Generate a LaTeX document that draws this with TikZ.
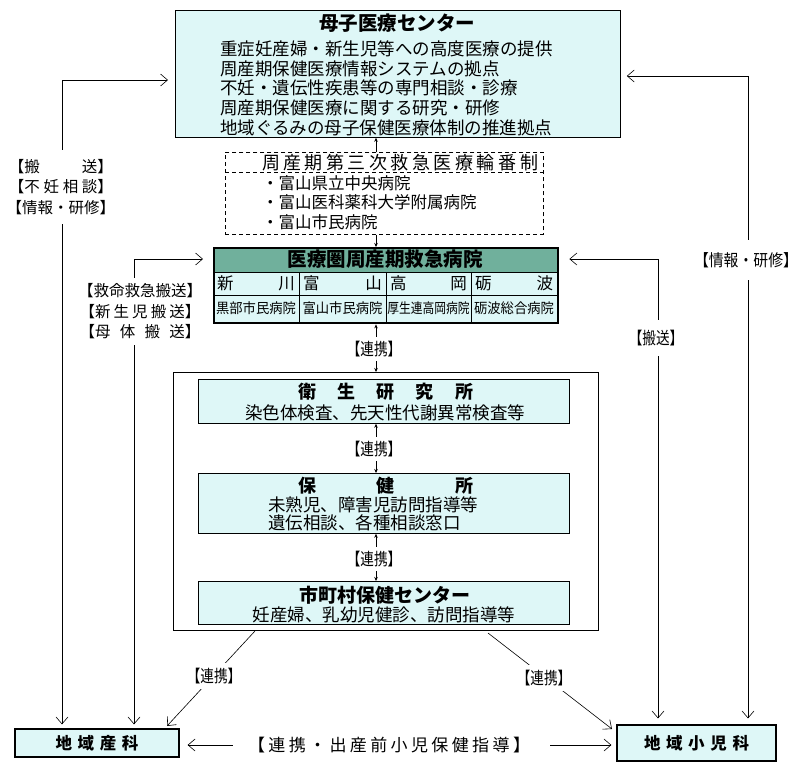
\documentclass[tikz,border=0pt]{standalone}
\usepackage{fontspec}
\setmainfont{Noto Sans CJK JP}
\usepackage{graphicx}
\usetikzlibrary{arrows.meta}
\definecolor{boxcyan}{RGB}{222,247,247}
\definecolor{headteal}{RGB}{112,176,156}
\newcommand{\fs}[1]{\fontsize{#1}{#1}\selectfont}
\newcommand{\narrow}[1]{\scalebox{0.8}[1]{#1}}
\begin{document}
\begin{tikzpicture}[x=1pt,y=-1pt,
    every node/.style={inner sep=0pt},
    cbox/.style={draw, line width=0.8pt, fill=boxcyan, anchor=north west},
    tag/.style={fill=white, inner xsep=2pt, inner ysep=7pt, font=\fs{15.5}},
    linktag/.style={fill=white, inner ysep=4pt, font=\fs{17}},
    link/.style={line width=0.6pt, -{Straight Barb[length=7pt,width=12pt]}},
    duplex/.style={line width=0.6pt, {Stealth[length=4pt,width=3.5pt]}-{Stealth[length=4pt,width=3.5pt]}},
    single/.style={line width=0.6pt, -{Stealth[length=4pt,width=3.5pt]}}
  ]
  \useasboundingbox (0,0) rectangle (805,769);
  \coordinate (spine) at (376,0);

  % top centre
  \node[cbox, minimum width=445pt, minimum height=127pt] (center) at (175,10) {};
  \node[font=\bfseries\fs{19.5}] (centertitle) at (397,23) {母子医療センター};
  \node[anchor=west, font=\fs{17.5}] (c1) at (220,49) {重症妊産婦・新生児等への高度医療の提供};
  \node[anchor=west, font=\fs{17.5}] (c2) at (220,68.5) {周産期保健医療情報システムの拠点};
  \node[anchor=west, font=\fs{17.5}] (c3) at (220,88) {不妊・遺伝性疾患等の専門相談・診療};
  \node[anchor=west, font=\fs{17.5}] (c4) at (220,108) {周産期保健医療に関する研究・研修};
  \node[anchor=west, font=\fs{17.5}] (c5) at (220,127.5) {地域ぐるみの母子保健医療体制の推進拠点};

  % rota of the third level
  \node[draw, dash pattern=on 4pt off 3pt, line width=0.7pt, anchor=north west,
        minimum width=318pt, minimum height=82pt] (rinban) at (225,152) {};
  \draw[dash pattern=on 4pt off 3pt, line width=0.7pt] (225,172) -- (543,172);
  \node[font=\fs{18}] (rinbantitle) at (400,162.5) {\makebox[276pt]{周\hfill 産\hfill 期\hfill 第\hfill 三\hfill 次\hfill 救\hfill 急\hfill 医\hfill 療\hfill 輪\hfill 番\hfill 制}};
  \node[anchor=west, font=\fs{16.5}] (r1) at (262,183) {・富山県立中央病院};
  \node[anchor=west, font=\fs{16.5}] (r2) at (262,202.5) {・富山医科薬科大学附属病院};
  \node[anchor=west, font=\fs{16.5}] (r3) at (262,222) {・富山市民病院};

  % regional hospitals
  \fill[boxcyan] (213,247) rectangle (557,322);
  \fill[headteal] (213,247) rectangle (557,272);
  \draw[line width=0.8pt] (213,272) -- (557,272) (213,295) -- (557,295);
  \foreach \x in {299,386,471}
    \draw[line width=0.8pt] (\x,272) -- (\x,322);
  \node[draw, line width=2.4pt, anchor=north west, minimum width=344pt, minimum height=75pt] (hosp) at (213,247) {};
  \node[font=\bfseries\fs{19.5}] (hosptitle) at (385,259.5) {医療圏周産期救急病院};
  \foreach \cx/\w/\lft/\rgt [count=\i] in {256/78/新/川, 342.5/79/富/山, 428.5/77/高/岡, 514/78/砺/波}
    \node[font=\fs{16.5}] (area\i) at (\cx,283.5) {\makebox[\w pt]{\lft\hfill\rgt}};
  \foreach \cx/\sx/\hname [count=\i] in {256/0.95/黒部市民病院, 342.5/0.95/富山市民病院, 428.5/0.84/厚生連高岡病院, 514/0.95/砺波総合病院}
    \node[font=\fs{14}] (hname\i) at (\cx,308.5) {\scalebox{\sx}[1]{\hname}};

  % local services
  \node[draw, line width=1pt, anchor=north west, minimum width=425pt, minimum height=258pt] (big) at (173,372) {};
  \node[cbox, minimum width=371pt, minimum height=44pt] (eisei) at (198,379) {};
  \node[font=\bfseries\fs{18}] (eiseititle) at (385.5,392) {\makebox[175pt]{衛\hfill 生\hfill 研\hfill 究\hfill 所}};
  \node[font=\fs{17.5}] (eiseitext) at (385,413) {染色体検査、先天性代謝異常検査等};
  \node[cbox, minimum width=371pt, minimum height=60pt] (hoken) at (198,473) {};
  \node[font=\bfseries\fs{18}] (hokentitle) at (385.5,486) {\makebox[175pt]{保\hfill 健\hfill 所}};
  \node[anchor=west, font=\fs{17.5}] (hoken1) at (268,505) {未熟児、障害児訪問指導等};
  \node[anchor=west, font=\fs{17.5}] (hoken2) at (268,523) {遺伝相談、各種相談窓口};
  \node[cbox, minimum width=371pt, minimum height=43pt] (town) at (198,581) {};
  \node[font=\bfseries\fs{19}] (towntitle) at (385,595) {市町村保健センター};
  \node[font=\fs{17.5}] (towntext) at (384,615) {妊産婦、乳幼児健診、訪問指導等};

  % local doctors
  \node[draw, line width=1.2pt, fill=boxcyan, minimum width=164pt, minimum height=28pt, font=\bfseries\fs{16.5}] (sanka) at (97,743) {\makebox[83pt]{地\hfill 域\hfill 産\hfill 科}};
  \node[draw, line width=1.2pt, fill=boxcyan, minimum width=159pt, minimum height=36pt, font=\bfseries\fs{16.5}] (shoni) at (696.5,743) {\makebox[105pt]{地\hfill 域\hfill 小\hfill 児\hfill 科}};

  % spine
  \draw[single] (rinban.north -| spine) -- (center.south -| spine);
  \draw[single] (rinban.south -| spine) -- (hosp.north -| spine);
  \draw[duplex] (hosp.south -| spine) -- (big.north -| spine);
  \draw[duplex] (eisei.south -| spine) -- (hoken.north -| spine);
  \draw[duplex] (hoken.south -| spine) -- (town.north -| spine);
  \node[linktag] (link1) at (374,349) {\narrow{【連携】}};
  \node[linktag] (link2) at (374,449) {\narrow{【連携】}};
  \node[linktag] (link3) at (374,559) {\narrow{【連携】}};

  % outer routes
  \coordinate (l1) at (62,80);
  \coordinate (l2) at (134,259);
  \coordinate (r1) at (658,259);
  \coordinate (r2) at (748,76);
  \draw[link, shorten >=7pt] (l1) -- (center.west |- l1);
  \draw[link, shorten >=4pt] (l1) -- (sanka.north -| l1);
  \draw[link, shorten >=10pt] (l2) -- (hosp.west |- l2);
  \draw[link, shorten >=4pt] (l2) -- (sanka.north -| l2);
  \draw[link, shorten >=10pt] (r1) -- (hosp.east |- r1);
  \draw[link, shorten >=6pt] (r1) -- (shoni.north -| r1);
  \draw[link, shorten >=6pt] (r2) -- (center.east |- r2);
  \draw[link, shorten >=6pt] (r2) -- (shoni.north -| r2);
  \node[tag, align=center, inner ysep=9pt] (lefttags) at (61,187)
    {\makebox[104pt]{【搬\hfill 送】}\\[5pt]\makebox[104pt]{【不\hfill 妊\hfill 相\hfill 談】}\\[5pt]\makebox[104pt]{【情報・研修】}};
  \node[tag, align=center, inner ysep=6pt] (carrytags) at (140,311.5)
    {\makebox[121pt]{【救命救急搬送】}\\[5pt]\makebox[121pt]{【新\hfill 生\hfill 児\hfill 搬\hfill 送】}\\[5pt]\makebox[121pt]{【母\hfill 体\hfill 搬\hfill 送】}};
  \node[tag, inner ysep=10pt, font=\fs{17}] (carryright) at (656,338) {\narrow{【搬送】}};
  \node[tag, inner ysep=12pt, font=\fs{16.5}] (inforight) at (746,260) {\scalebox{0.9}[1]{【情報・研修】}};

  % diagonal links
  \coordinate (dl) at (255,631);
  \coordinate (dlend) at (167,726);
  \coordinate (dr) at (488,633);
  \coordinate (drend) at (612,729);
  \draw[link] (dl) -- (dlend);
  \draw[link] (dr) -- (drend);
  \node[linktag, inner ysep=5pt] (linkl) at (214,676) {\narrow{【連携】}};
  \node[linktag, inner ysep=5pt] (linkr) at (544,678) {\narrow{【連携】}};

  % bottom
  \node[font=\fs{17}] (prenatal) at (389,745) {\makebox[282pt]{【\hfill 連\hfill 携\hfill ・\hfill 出\hfill 産\hfill 前\hfill 小\hfill 児\hfill 保\hfill 健\hfill 指\hfill 導\hfill 】}};
  \draw[link, shorten <=15pt, shorten >=8pt] (prenatal.west) -- (sanka.east |- prenatal);
  \draw[link, shorten <=20pt, shorten >=5pt] (prenatal.east) -- (shoni.west |- prenatal);
\end{tikzpicture}
\end{document}
